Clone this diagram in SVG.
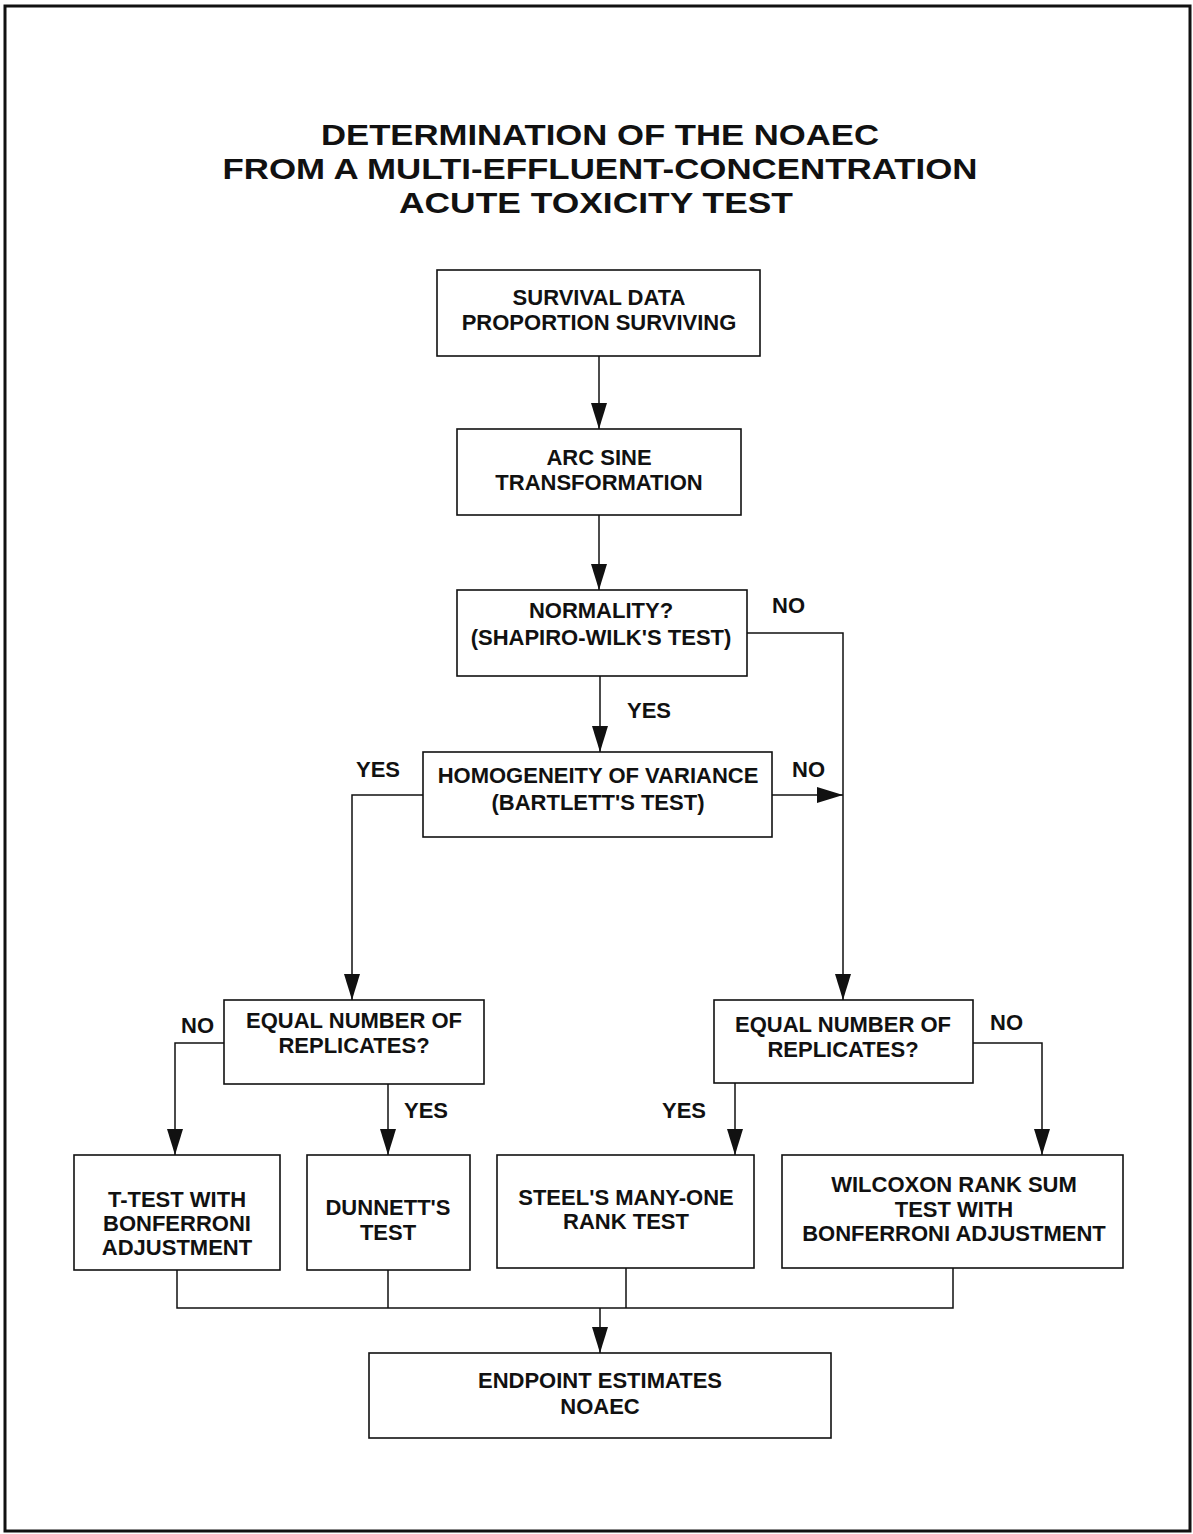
<svg xmlns="http://www.w3.org/2000/svg" width="1193" height="1534" viewBox="0 0 1193 1534">
<style>
.box{fill:#fff;stroke:#111;stroke-width:1.6}
.t{font-family:"Liberation Sans",Arial,sans-serif;font-weight:bold;font-size:22px;fill:#111;text-anchor:middle}
.lbl{font-family:"Liberation Sans",Arial,sans-serif;font-weight:bold;font-size:22px;fill:#111}
.title{font-family:"Liberation Sans",Arial,sans-serif;font-weight:bold;font-size:30px;fill:#111;text-anchor:middle}
.ln{fill:none;stroke:#111;stroke-width:1.5}
</style>
<defs>
<marker id="ah" markerUnits="userSpaceOnUse" markerWidth="27" markerHeight="17" refX="26" refY="8" orient="auto">
<path d="M0,0 L26,8 L0,16 Z" fill="#111"/>
</marker>
</defs>
<rect x="0" y="0" width="1193" height="1534" fill="#fff"/>
<rect x="5" y="6" width="1185" height="1525" fill="none" stroke="#111" stroke-width="3"/>
<g id="title">
<text class="title" x="600" y="145" textLength="558" lengthAdjust="spacingAndGlyphs">DETERMINATION OF THE NOAEC</text>
<text class="title" x="600" y="179" textLength="755" lengthAdjust="spacingAndGlyphs">FROM A MULTI-EFFLUENT-CONCENTRATION</text>
<text class="title" x="596" y="213" textLength="394" lengthAdjust="spacingAndGlyphs">ACUTE TOXICITY TEST</text>
</g>
<g id="connectors">
<path class="ln" d="M599,356 V429" marker-end="url(#ah)"/>
<path class="ln" d="M599,515 V590" marker-end="url(#ah)"/>
<path class="ln" d="M600,676 V752" marker-end="url(#ah)"/>
<path class="ln" d="M747,633 H843 V1000" marker-end="url(#ah)"/>
<path class="ln" d="M772,795 H843" marker-end="url(#ah)"/>
<path class="ln" d="M423,795 H352 V1000" marker-end="url(#ah)"/>
<path class="ln" d="M224,1043 H175 V1155" marker-end="url(#ah)"/>
<path class="ln" d="M388,1084 V1155" marker-end="url(#ah)"/>
<path class="ln" d="M735,1083 V1155" marker-end="url(#ah)"/>
<path class="ln" d="M973,1043 H1042 V1155" marker-end="url(#ah)"/>
<path class="ln" d="M177,1270 V1308 H953 V1268 M388,1270 V1308 M626,1268 V1308"/>
<path class="ln" d="M600,1308 V1353" marker-end="url(#ah)"/>
<text class="lbl" x="772" y="613">NO</text>
<text class="lbl" x="627" y="718">YES</text>
<text class="lbl" x="356" y="777">YES</text>
<text class="lbl" x="792" y="777">NO</text>
<text class="lbl" x="181" y="1033">NO</text>
<text class="lbl" x="404" y="1118">YES</text>
<text class="lbl" x="662" y="1118">YES</text>
<text class="lbl" x="990" y="1030">NO</text>
</g>
<g id="survival">
<rect class="box" x="437" y="270" width="323" height="86"/>
<text class="t" x="599" y="305">SURVIVAL DATA</text>
<text class="t" x="599" y="330">PROPORTION SURVIVING</text>
</g>
<g id="arcsine">
<rect class="box" x="457" y="429" width="284" height="86"/>
<text class="t" x="599" y="465">ARC SINE</text>
<text class="t" x="599" y="490">TRANSFORMATION</text>
</g>
<g id="normality">
<rect class="box" x="457" y="590" width="290" height="86"/>
<text class="t" x="601" y="618">NORMALITY?</text>
<text class="t" x="601" y="645">(SHAPIRO-WILK'S TEST)</text>
</g>
<g id="homogeneity">
<rect class="box" x="423" y="752" width="349" height="85"/>
<text class="t" x="598" y="783">HOMOGENEITY OF VARIANCE</text>
<text class="t" x="598" y="810">(BARTLETT'S TEST)</text>
</g>
<g id="equal-left">
<rect class="box" x="224" y="1000" width="260" height="84"/>
<text class="t" x="354" y="1028">EQUAL NUMBER OF</text>
<text class="t" x="354" y="1053">REPLICATES?</text>
</g>
<g id="equal-right">
<rect class="box" x="714" y="1000" width="259" height="83"/>
<text class="t" x="843" y="1032">EQUAL NUMBER OF</text>
<text class="t" x="843" y="1057">REPLICATES?</text>
</g>
<g id="ttest">
<rect class="box" x="74" y="1155" width="206" height="115"/>
<text class="t" x="177" y="1207">T-TEST WITH</text>
<text class="t" x="177" y="1231">BONFERRONI</text>
<text class="t" x="177" y="1255">ADJUSTMENT</text>
</g>
<g id="dunnett">
<rect class="box" x="307" y="1155" width="163" height="115"/>
<text class="t" x="388" y="1215">DUNNETT'S</text>
<text class="t" x="388" y="1240">TEST</text>
</g>
<g id="steel">
<rect class="box" x="497" y="1155" width="257" height="113"/>
<text class="t" x="626" y="1205">STEEL'S MANY-ONE</text>
<text class="t" x="626" y="1229">RANK TEST</text>
</g>
<g id="wilcoxon">
<rect class="box" x="782" y="1155" width="341" height="113"/>
<text class="t" x="954" y="1192">WILCOXON RANK SUM</text>
<text class="t" x="954" y="1217">TEST WITH</text>
<text class="t" x="954" y="1241">BONFERRONI ADJUSTMENT</text>
</g>
<g id="endpoint">
<rect class="box" x="369" y="1353" width="462" height="85"/>
<text class="t" x="600" y="1388">ENDPOINT ESTIMATES</text>
<text class="t" x="600" y="1414">NOAEC</text>
</g>
</svg>
